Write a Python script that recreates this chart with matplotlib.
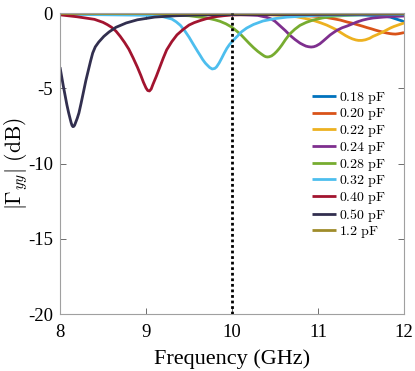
import matplotlib
matplotlib.use('Agg')
import matplotlib.pyplot as plt

# curves: frequency (GHz) and |Gamma_yy| (dB)
f_018 = [8.0, 9.0, 10.0, 11.0, 11.5, 11.76, 11.84, 11.92, 11.98, 12.0]
db_018 = [-0.04, -0.05, -0.06, -0.08, -0.12, -0.2, -0.27, -0.42, -0.53, -0.6]

f_020 = [8.0, 9.0, 10.0, 10.8, 11.0, 11.1, 11.18, 11.26, 11.34, 11.4, 11.46, 11.52, 11.57, 11.62,
         11.67, 11.72, 11.76, 11.8, 11.84, 11.87, 11.9, 11.93, 11.96, 12.0]
db_020 = [-0.04, -0.05, -0.07, -0.15, -0.23, -0.3, -0.38, -0.47, -0.6, -0.68, -0.78, -0.88, -0.97, -1.05,
          -1.14, -1.22, -1.28, -1.33, -1.37, -1.39, -1.4, -1.38, -1.35, -1.3]

f_022 = [8.0, 9.0, 10.0, 10.5, 10.75, 10.85, 10.95, 11.03, 11.1, 11.16, 11.22, 11.27, 11.32, 11.36,
         11.4, 11.44, 11.47, 11.51, 11.55, 11.6, 11.64, 11.69, 11.74, 11.79, 11.84, 11.88, 11.92,
         11.96, 12.0]
db_022 = [-0.03, -0.04, -0.06, -0.12, -0.25, -0.36, -0.5, -0.65, -0.8, -0.96, -1.13, -1.32, -1.5, -1.62,
          -1.72, -1.79, -1.82, -1.82, -1.78, -1.68, -1.55, -1.43, -1.3, -1.15, -1.0, -0.9, -0.82,
          -0.74, -0.66]

f_024 = [8.0, 9.0, 10.0, 10.3, 10.4, 10.45, 10.5, 10.56, 10.62, 10.67, 10.73, 10.79, 10.83, 10.86,
         10.89, 10.92, 10.95, 10.98, 11.02, 11.06, 11.1, 11.14, 11.18, 11.22, 11.28, 11.34, 11.4,
         11.45, 11.52, 11.58, 11.64, 11.76, 11.88, 12.0]
db_024 = [-0.03, -0.05, -0.08, -0.16, -0.28, -0.38, -0.55, -0.86, -1.17, -1.46, -1.75, -2.0, -2.12, -2.2,
          -2.24, -2.26, -2.24, -2.18, -2.05, -1.86, -1.66, -1.46, -1.3, -1.15, -0.98, -0.86, -0.72,
          -0.6, -0.47, -0.39, -0.33, -0.27, -0.23, -0.2]

f_028 = [8.0, 9.0, 9.5, 9.7, 9.8, 9.86, 9.93, 10.0, 10.05, 10.1, 10.15, 10.2, 10.25, 10.3, 10.34,
         10.37, 10.39, 10.41, 10.43, 10.46, 10.49, 10.52, 10.55, 10.58, 10.62, 10.67, 10.73, 10.79,
         10.86, 10.94, 11.05, 11.17, 11.3, 11.5, 12.0]
db_028 = [-0.05, -0.08, -0.18, -0.32, -0.45, -0.55, -0.72, -0.95, -1.18, -1.42, -1.72, -2.02, -2.3, -2.55,
          -2.72, -2.84, -2.9, -2.92, -2.91, -2.85, -2.72, -2.55, -2.35, -2.12, -1.78, -1.4, -1.08, -0.82,
          -0.63, -0.47, -0.33, -0.22, -0.17, -0.12, -0.08]

f_032 = [8.0, 9.0, 9.2, 9.3, 9.35, 9.4, 9.45, 9.5, 9.55, 9.6, 9.63, 9.66, 9.69, 9.71, 9.74, 9.77,
         9.8, 9.82, 9.85, 9.88, 9.91, 9.94, 9.97, 10.0, 10.06, 10.11, 10.17, 10.25, 10.36, 10.5,
         10.64, 11.0, 12.0]
db_032 = [-0.08, -0.15, -0.25, -0.4, -0.58, -0.82, -1.18, -1.6, -2.08, -2.55, -2.82, -3.1, -3.33, -3.45,
          -3.62, -3.72, -3.68, -3.58, -3.32, -3.0, -2.66, -2.35, -2.1, -1.9, -1.55, -1.25, -1.0, -0.76,
          -0.53, -0.37, -0.27, -0.15, -0.1]

f_040 = [8.0, 8.2, 8.4, 8.5, 8.55, 8.6, 8.65, 8.7, 8.75, 8.8, 8.85, 8.9, 8.94, 8.97, 9.0, 9.02,
         9.04, 9.06, 9.08, 9.12, 9.16, 9.2, 9.24, 9.3, 9.36, 9.43, 9.5, 9.56, 9.63, 9.7, 9.8, 9.9,
         10.0, 10.5, 12.0]
db_040 = [-0.12, -0.25, -0.42, -0.62, -0.77, -0.95, -1.2, -1.55, -1.95, -2.4, -2.98, -3.6, -4.15, -4.6,
          -4.98, -5.15, -5.18, -5.05, -4.75, -4.2, -3.6, -3.0, -2.45, -1.9, -1.45, -1.1, -0.8, -0.64,
          -0.5, -0.38, -0.25, -0.18, -0.13, -0.08, -0.05]

f_050 = [8.0, 8.02, 8.04, 8.06, 8.08, 8.1, 8.12, 8.13, 8.14, 8.15, 8.16, 8.17, 8.18, 8.2, 8.22,
         8.245, 8.27, 8.3, 8.33, 8.355, 8.38, 8.41, 8.45, 8.51, 8.57, 8.65, 8.77, 8.9, 9.1, 9.35,
         9.6, 10.0, 11.0, 12.0]
db_050 = [-3.6, -4.25, -4.9, -5.5, -6.1, -6.62, -7.08, -7.3, -7.47, -7.55, -7.53, -7.45, -7.3, -7.0,
          -6.64, -6.0, -5.32, -4.5, -3.79, -3.2, -2.66, -2.25, -1.93, -1.55, -1.26, -0.95, -0.66, -0.45,
          -0.27, -0.18, -0.13, -0.1, -0.08, -0.06]

f_12 = [8.0, 9.0, 10.0, 11.0, 12.0]
db_12 = [-0.03, -0.03, -0.02, -0.02, -0.02]

labels = ['0.18 pF', '0.20 pF', '0.22 pF', '0.24 pF', '0.28 pF', '0.32 pF', '0.40 pF', '0.50 pF', '1.2 pF']
colors = ['#0072bd', '#d95319', '#edb120', '#7e2f8e', '#77ac30', '#4dbeee', '#a2142f', '#322f4f', '#9f8c2a']
freqs = [f_018, f_020, f_022, f_024, f_028, f_032, f_040, f_050, f_12]
vals = [db_018, db_020, db_022, db_024, db_028, db_032, db_040, db_050, db_12]

plt.rcParams['mathtext.fontset'] = 'cm'
plt.rcParams['axes.unicode_minus'] = False
plt.rcParams['font.family'] = 'Liberation Serif'

fig = plt.figure(figsize=(4.15, 3.71), dpi=100)
ax = fig.add_axes([0.1446, 0.1536, 0.829, 0.8113])

for f, v, lab, c in zip(freqs, vals, labels, colors):
    num, unit = lab.split()
    ax.plot(f, v, color=c, lw=2, label=r'$%s\ \mathrm{%s}$' % (num, unit),
            solid_joinstyle='round', solid_capstyle='butt')

ax.axvline(10, color='black', lw=2, linestyle=(0, (1, 1)), zorder=5)

ax.set_xlim(8, 12)
ax.set_ylim(-20, 0)
ax.set_xticks([8, 9, 10, 11, 12])
ax.set_yticks([-20, -15, -10, -5, 0])
ax.tick_params(direction='in', top=True, right=True, length=4, width=0.6,
               color='#555555', labelsize=13.5)
ax.tick_params(axis='x', pad=7)
ax.tick_params(axis='y', pad=5)
for s in ax.spines.values():
    s.set_color('#a0a0a0')
    s.set_linewidth(0.8)

ax.set_xlabel('Frequency (GHz)', fontsize=16, labelpad=6)
ax.set_ylabel(r'$|\Gamma_{yy}|\ \mathrm{(dB)}$', fontsize=15.5)
ax.yaxis.set_label_coords(-0.088, 0.5)

ax.legend(loc='upper left', bbox_to_anchor=(0.733, 0.745), frameon=False, fontsize=10,
          handlelength=1.75, handletextpad=0.15, labelspacing=0.05, borderpad=0,
          borderaxespad=0)

fig.savefig('out.png', dpi=100)
